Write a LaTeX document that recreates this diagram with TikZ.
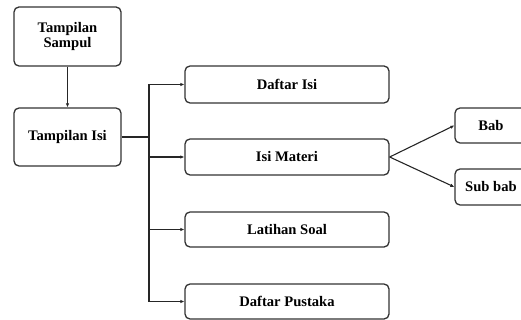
\documentclass[tikz,border=0pt]{standalone}
\usepackage{fontspec}
\setmainfont{Liberation Serif}
\usetikzlibrary{arrows.meta}
\begin{document}
\begin{tikzpicture}[x=1pt,y=-1pt,
  box/.style={draw=black!80, line width=1.3pt, rounded corners=5pt, fill=white,
    font=\fontsize{14.6}{15.5}\selectfont\bfseries, align=center, inner sep=0pt},
  conn/.style={draw=black!85, line width=1.1pt},
  arr/.style={conn, -{Latex[length=4pt,width=3.5pt]}}]
\useasboundingbox (0,0) rectangle (521,320);
\node[box, minimum width=107pt, minimum height=59pt] (sampul) at (67.5,36.5) {Tampilan\\Sampul};
\node[box, minimum width=107pt, minimum height=58pt] (isi) at (67.5,137) {Tampilan Isi};
\node[box, minimum width=204pt, minimum height=37pt] (daftar) at (287,84.5) {Daftar Isi};
\node[box, minimum width=204pt, minimum height=36pt] (materi) at (287,157) {Isi Materi};
\node[box, minimum width=204pt, minimum height=35pt] (latihan) at (287,229.5) {Latihan Soal};
\node[box, minimum width=204pt, minimum height=35pt] (pustaka) at (287,301.5) {Daftar Pustaka};
\node[box, minimum width=72pt, minimum height=35pt] (bab) at (491,125.5) {Bab};
\node[box, minimum width=72pt, minimum height=36pt] (subbab) at (491,187) {Sub bab};
\coordinate (bus) at (149,137);
\draw[arr] (sampul) -- (isi);
\draw[conn] (isi) -- (bus);
\draw[arr] (bus) |- (daftar);
\draw[arr] (bus) |- (materi);
\draw[arr] (bus) |- (latihan);
\draw[arr] (bus) |- (pustaka);
\draw[arr] (materi.east) -- (bab.west);
\draw[arr] (materi.east) -- (subbab.west);
\end{tikzpicture}
\end{document}
